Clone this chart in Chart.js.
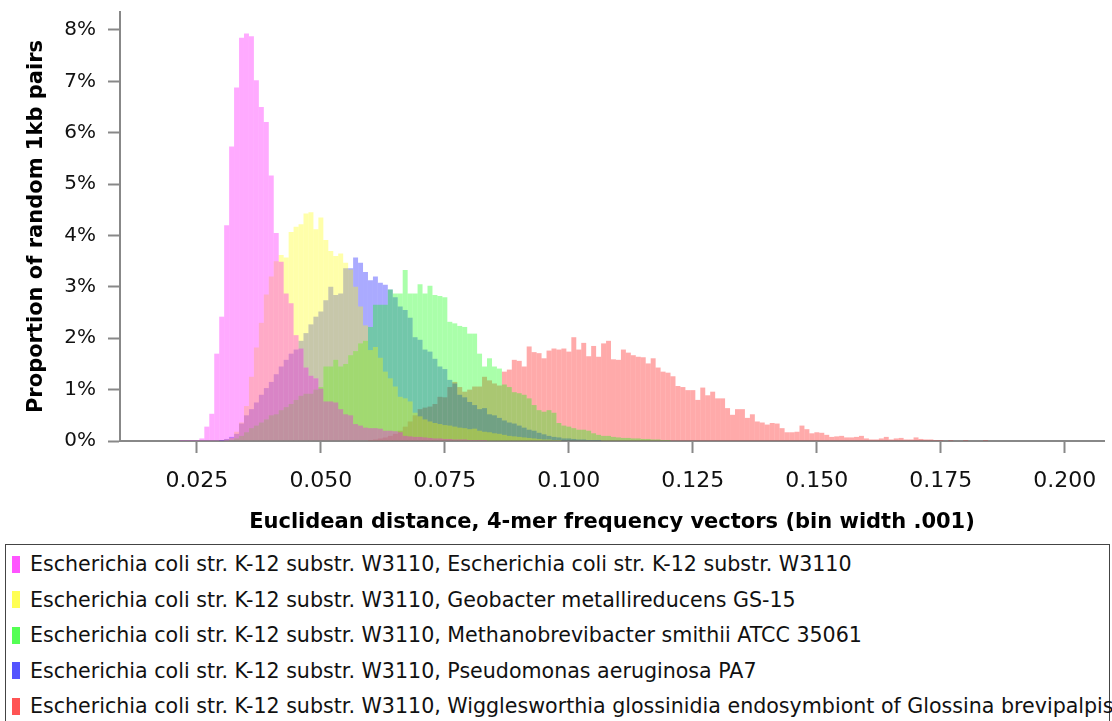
<!DOCTYPE html>
<html><head><meta charset="utf-8">
<script src="https://cdn.jsdelivr.net/npm/chart.js@4.4.0/dist/chart.umd.min.js"></script>
<style>
html,body{margin:0;padding:0;background:#fff;width:1112px;height:721px;overflow:hidden;}
#wrap{position:absolute;left:0;top:0;width:1112px;height:540px;}
#legend{position:absolute;left:5px;top:544px;width:1105px;height:200px;border:1.5px solid #444;box-sizing:border-box;font-family:"DejaVu Sans";font-size:20.6px;color:#111;}
.item{position:absolute;left:6px;height:22px;display:flex;align-items:center;white-space:nowrap;}
.sw{width:8px;height:17px;margin-right:10px;flex:none;}
</style></head>
<body>
<div id="wrap"><canvas id="c" width="1112" height="540"></canvas></div>
<div id="legend"></div>
<script>
// ---- data (percent of random 1kb pairs per .001 bin) ----
const binWidth = 0.001;
const xTickValues = [0.025, 0.050, 0.075, 0.100, 0.125, 0.150, 0.175, 0.200];
const yTickValues = [0, 1, 2, 3, 4, 5, 6, 7, 8];

const seriesLabels = [
  "Escherichia coli str. K-12 substr. W3110, Escherichia coli str. K-12 substr. W3110",
  "Escherichia coli str. K-12 substr. W3110, Geobacter metallireducens GS-15",
  "Escherichia coli str. K-12 substr. W3110, Methanobrevibacter smithii ATCC 35061",
  "Escherichia coli str. K-12 substr. W3110, Pseudomonas aeruginosa PA7",
  "Escherichia coli str. K-12 substr. W3110, Wigglesworthia glossinidia endosymbiont of Glossina brevipalpis"
];
const seriesColors = ["255,0,255", "255,255,0", "0,255,0", "0,0,255", "255,0,0"];

// first bin (in thousandths) of each series
const pinkStart = 20;
const pinkValues = [0.01,0.01,0.02,0.02,0.02,0.02,0.05,0.28,0.53,1.70,2.42,4.20,5.73,6.88,7.85,7.93,7.88,7.02,6.50,6.21,
  5.17,4.05,3.49,2.87,2.68,2.06,1.80,1.43,1.27,1.22,1.02,0.77,0.77,0.75,0.62,0.52,0.50,0.33,0.30,0.26,
  0.25,0.25,0.24,0.20,0.20,0.19,0.17,0.10,0.09,0.08,0.08,0.07,0.06,0.05,0.05,0.04,0.04,0.03,0.03,0.03,
  0.02,0.02,0.02,0.02,0.01,0.01];

const yellowStart = 31;
const yellowValues = [0.03,0.06,0.18,0.36,0.68,1.25,1.82,2.30,2.85,3.20,3.50,3.62,3.57,4.07,4.17,4.22,4.43,4.45,4.12,4.35,
  3.91,3.70,3.60,3.65,3.47,3.34,3.00,2.62,2.25,1.77,1.83,1.62,1.35,1.22,1.06,0.86,0.83,0.77,0.55,0.48,
  0.42,0.38,0.35,0.33,0.31,0.30,0.28,0.26,0.25,0.23,0.24,0.20,0.18,0.17,0.15,0.14,0.12,0.10,0.09,0.08,
  0.07,0.06,0.05,0.04,0.03,0.03,0.02,0.02,0.01,0.01];

const greenStart = 32;
const greenValues = [0.02,0.05,0.10,0.17,0.25,0.30,0.36,0.42,0.50,0.52,0.60,0.66,0.72,0.80,0.88,0.92,0.92,1.00,1.05,1.45,
  1.45,1.58,1.45,1.50,1.67,1.75,1.90,1.95,2.22,2.65,2.65,2.65,2.95,2.87,2.87,3.33,2.87,2.87,3.05,2.87,
  3.02,2.84,2.82,2.80,2.32,2.29,2.24,2.22,2.09,2.09,1.70,1.45,1.61,1.45,1.41,1.10,1.05,0.95,0.93,0.90,
  0.83,0.70,0.60,0.57,0.60,0.55,0.35,0.30,0.28,0.25,0.22,0.22,0.20,0.15,0.12,0.10,0.10,0.08,0.07,0.06,
  0.06,0.05,0.05,0.04,0.04,0.03,0.03,0.02,0.02];

const blueStart = 20;
const blueValues = [0.01,0.01,0.01,0.01,0.01,0.01,0.01,0.01,0.01,0.01,0.02,0.04,0.08,0.14,0.34,0.50,0.62,0.75,0.90,1.03,
  1.15,1.30,1.45,1.58,1.70,1.78,1.95,2.10,2.27,2.42,2.52,2.74,3.00,2.84,2.87,3.36,3.36,3.57,3.47,3.29,
  3.13,3.20,3.08,3.04,2.95,2.80,2.62,2.55,2.40,2.02,1.97,1.78,1.74,1.60,1.45,1.40,1.19,1.12,0.90,0.85,
  0.76,0.70,0.62,0.64,0.52,0.50,0.45,0.40,0.36,0.34,0.30,0.26,0.22,0.20,0.16,0.13,0.10,0.08,0.07,0.05,
  0.05,0.04,0.03,0.03,0.02,0.02,0.02,0.01,0.01];

const redStart = 60;
const redValues = [0.02,0.03,0.05,0.07,0.10,0.14,0.20,0.28,0.38,0.50,0.62,0.65,0.67,0.72,0.86,0.85,1.05,1.15,1.05,0.96,
  1.00,1.06,1.06,1.25,1.18,1.12,1.08,1.35,1.39,1.58,1.56,1.45,1.84,1.73,1.71,1.61,1.76,1.80,1.78,1.80,
  1.74,2.02,1.78,1.91,1.65,1.85,1.64,1.90,1.95,1.59,1.58,1.78,1.72,1.67,1.64,1.63,1.51,1.61,1.43,1.35,
  1.33,1.26,1.07,1.05,0.99,0.99,0.80,1.04,0.89,0.96,0.83,0.83,0.64,0.51,0.62,0.62,0.45,0.52,0.38,0.36,
  0.32,0.35,0.34,0.25,0.17,0.17,0.18,0.30,0.23,0.15,0.17,0.16,0.12,0.08,0.09,0.10,0.07,0.07,0.08,0.10,
  0.05,0.03,0.03,0.05,0.08,0.03,0.05,0.06,0.03,0.03,0.07,0.04,0.03,0.03,0.02,0.02,0.01,0.02,0.01,0.01,
  0.02,0.01,0.01,0.01,0.02,0.01];

const seriesStarts = [pinkStart, yellowStart, greenStart, blueStart, redStart];
const seriesValues = [pinkValues, yellowValues, greenValues, blueValues, redValues];

// ---- chart ----
const FONT = '"DejaVu Sans", sans-serif';
const datasets = seriesValues.map((vals, s) => ({
  type: 'bar',
  label: seriesLabels[s],
  data: vals.map((v, i) => ({ x: (seriesStarts[s] + i) * binWidth, y: v })),
  backgroundColor: 'rgba(' + seriesColors[s] + ',0.333)',
  borderWidth: 0,
  barPercentage: 1,
  categoryPercentage: 1,
  grouped: false,
  inflateAmount: 0
}));

const chart = new Chart(document.getElementById('c'), {
  type: 'bar',
  data: { datasets },
  options: {
    responsive: false,
    animation: false,
    events: [],
    layout: { padding: { top: 12, right: 8, left: 0, bottom: 0 } },
    plugins: { legend: { display: false }, tooltip: { enabled: false } },
    scales: {
      x: {
        type: 'linear',
        min: 0.0095, max: 0.2079,
        offset: false,
        afterFit: s => { s.height = 99; s.paddingLeft = 0; s.paddingRight = 0; },
        afterBuildTicks: s => { s.ticks = xTickValues.map(v => ({ value: v })); },
        ticks: { callback: v => v.toFixed(3), color: '#111', font: { family: FONT, size: 22 }, padding: 15, maxRotation: 0, autoSkip: false },
        grid: { offset: false, drawOnChartArea: false, drawTicks: true, tickLength: 12, tickWidth: 2, tickColor: '#888' },
        border: { display: true, color: '#888', width: 2 },
        title: { display: true, text: 'Euclidean distance, 4-mer frequency vectors (bin width .001)', color: '#000',
          font: { family: FONT, size: 21, weight: 'bold' }, padding: { top: 0, bottom: 5 } }
      },
      y: {
        min: 0, max: 8.35,
        afterFit: s => { s.width = 120; s.paddingTop = 0; s.paddingBottom = 0; },
        afterBuildTicks: s => { s.ticks = yTickValues.map(v => ({ value: v })); },
        ticks: { callback: v => v + '%', color: '#111', font: { family: FONT, size: 20 }, padding: 12 },
        grid: { offset: false, drawOnChartArea: false, drawTicks: true, tickLength: 12, tickWidth: 2, tickColor: '#888' },
        border: { display: true, color: '#888', width: 2 },
        title: { display: true, text: 'Proportion of random 1kb pairs', color: '#000',
          font: { family: FONT, size: 21, weight: 'bold' }, padding: { top: 24, bottom: 0 } }
      }
    }
  }
});

// ---- legend (HTML, built from the chart's datasets) ----
const lg = document.getElementById('legend');
chart.data.datasets.forEach((ds, i) => {
  const row = document.createElement('div');
  row.className = 'item';
  row.style.top = (8 + i * 35.5) + 'px';
  const sw = document.createElement('span');
  sw.className = 'sw';
  sw.style.background = 'rgba(' + seriesColors[i] + ',0.67)';
  const tx = document.createElement('span');
  tx.textContent = ds.label;
  row.appendChild(sw); row.appendChild(tx);
  lg.appendChild(row);
});
</script>
</body></html>
